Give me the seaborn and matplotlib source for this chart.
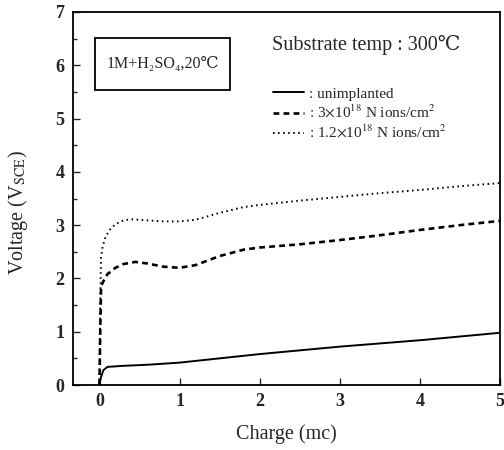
import matplotlib
matplotlib.use("Agg")
import matplotlib.pyplot as plt
import seaborn as sns
import numpy as np
from matplotlib.lines import Line2D
from matplotlib.patches import Rectangle
from matplotlib.ticker import MultipleLocator

# ---- data ----
x_solid = [0, 0.02, 0.05, 0.1, 0.3, 0.6, 1.0, 1.5, 2.0, 2.5, 3.0, 3.5, 4.0, 4.5, 5.0]
v_solid = [0, 0.15, 0.28, 0.34, 0.36, 0.38, 0.42, 0.50, 0.58, 0.65, 0.72, 0.78, 0.84, 0.91, 0.98]

x_dash = [0, 0.01, 0.02, 0.05, 0.1, 0.2, 0.3, 0.45, 0.6, 0.8, 1.0, 1.2, 1.5, 1.8, 2.0,
          2.5, 3.0, 3.5, 4.0, 4.5, 5.0]
v_dash = [0, 1.0, 1.85, 1.95, 2.08, 2.2, 2.27, 2.31, 2.28, 2.22, 2.20, 2.25, 2.42, 2.54, 2.58,
          2.64, 2.72, 2.81, 2.91, 3.0, 3.08]

x_dot = [0, 0.01, 0.02, 0.04, 0.07, 0.12, 0.2, 0.3, 0.4, 0.6, 0.8, 1.0, 1.2, 1.5, 1.8, 2.0,
         2.5, 3.0, 3.5, 4.0, 4.5, 5.0]
v_dot = [0, 1.5, 2.4, 2.6, 2.75, 2.9, 3.02, 3.09, 3.11, 3.09, 3.07, 3.07, 3.10, 3.23, 3.34, 3.38,
         3.46, 3.53, 3.60, 3.66, 3.73, 3.79]

labels = [": unimplanted",
          r": 3$\times$10$^{18}$ N ions/cm$^{2}$",
          r": 1.2$\times$10$^{18}$ N ions/cm$^{2}$"]
x_ticks = [0, 1, 2, 3, 4, 5]
y_ticks = [0, 1, 2, 3, 4, 5, 6, 7]

sns.set_theme(style="ticks")
plt.rcParams['font.family'] = ['Liberation Serif', 'DejaVu Serif']
plt.rcParams['mathtext.fontset'] = 'stix'

fig = plt.figure(figsize=(5.04, 4.5), dpi=100)
ax = fig.add_axes([73/504, 1 - 385/450, 427/504, 373/450])

sns.lineplot(x=x_solid, y=v_solid, ax=ax, color='black', lw=1.4, linestyle='-', sort=False)
sns.lineplot(x=x_dash, y=v_dash, ax=ax, color='black', lw=1.9, linestyle=(0, (2.2, 1.6)), sort=False)
sns.lineplot(x=x_dot, y=v_dot, ax=ax, color='black', lw=1.4, linestyle=(0, (0.8, 1.8)), sort=False)

ax.set_xlim(-0.33, 5.0)
ax.set_ylim(0, 7)
ax.set_xticks(x_ticks)
ax.set_yticks(y_ticks)
ax.yaxis.set_minor_locator(MultipleLocator(0.5))
ax.tick_params(axis='both', which='both', direction='in', top=False, right=False,
               labelsize=13, pad=6, width=1)
ax.tick_params(axis='both', which='major', length=5)
ax.tick_params(axis='both', which='minor', length=3)
for lab in ax.get_xticklabels() + ax.get_yticklabels():
    lab.set_fontweight('bold')
for s in ax.spines.values():
    s.set_linewidth(1.3)
    s.set_color('black')

ax.set_xlabel("Charge (mc)", fontsize=14.5, labelpad=10)
ax.set_ylabel(r"Voltage (V$_{\mathrm{SCE}}$)", fontsize=14.5, va='center')
ax.yaxis.set_label_coords(-0.128, 0.461)

# condition box
ax.add_patch(Rectangle((22/427, 295/373), 135/427, 52/373, transform=ax.transAxes,
                       fill=False, lw=1.3, edgecolor='black'))
ax.text(0.2096, 0.861, "1M+H₂SO₄,20℃", transform=ax.transAxes,
        ha='center', va='center', fontsize=11.5)

ax.text(0.466, 0.912, "Substrate temp : 300℃", transform=ax.transAxes,
        ha='left', va='center', fontsize=14.5)

handles = [Line2D([], [], color='black', lw=1.4, linestyle='-'),
           Line2D([], [], color='black', lw=1.9, linestyle=(0, (2.2, 1.6))),
           Line2D([], [], color='black', lw=1.4, linestyle=(0, (0.8, 1.8)))]
ax.legend(handles, labels, loc='upper left', bbox_to_anchor=(0.455, 0.815),
          frameon=False, fontsize=11, handlelength=2.0, handletextpad=0.3,
          labelspacing=0.2, borderaxespad=0)

fig.savefig("out.png", dpi=100)
